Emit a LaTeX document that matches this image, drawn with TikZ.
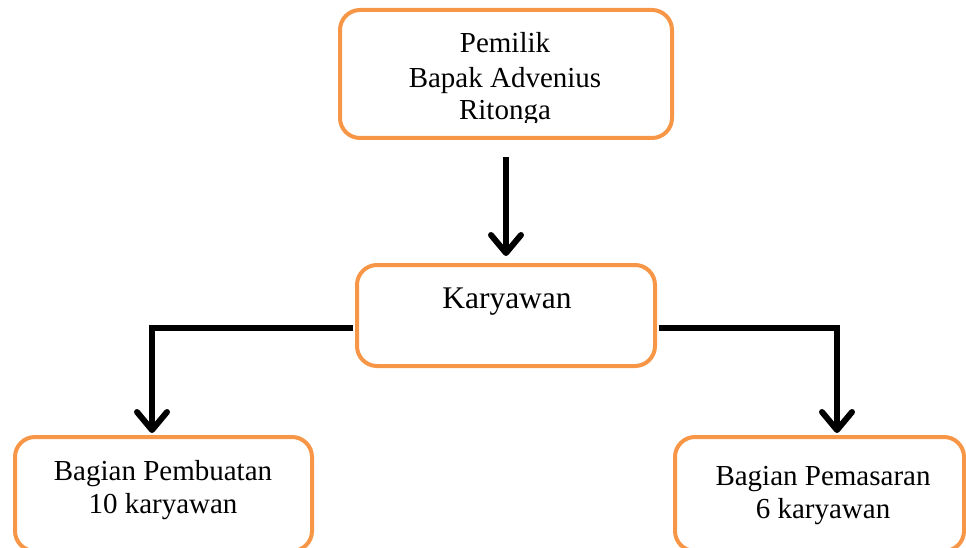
\documentclass[tikz,border=0pt]{standalone}
\usepackage{fontspec}
\setmainfont{Liberation Serif}
\usetikzlibrary{arrows.meta}
\definecolor{boxorange}{HTML}{F79646}
\begin{document}
\begin{tikzpicture}[x=1pt,y=-1pt,
  orgbox/.style={draw=boxorange, line width=4pt, rounded corners=20pt, inner sep=0pt},
  lbl/.style={anchor=base, inner sep=0pt, font=\fontsize{29}{34}\selectfont},
  conn/.style={line width=6pt, -{Straight Barb[length=18pt,width=30pt,line cap=round,line join=round]}}]
\useasboundingbox (0,0) rectangle (966,548);
% boxes
\node[orgbox, minimum width=332pt, minimum height=128pt] (own) at (506,74) {};
\node[orgbox, minimum width=298pt, minimum height=101pt] (kar) at (506,315.5) {};
\begin{scope}
\clip (0,0) rectangle (966,548);
\node[orgbox, minimum width=297pt, minimum height=114pt] (bl) at (163.5,494) {};
\node[orgbox, minimum width=289pt, minimum height=114pt] (br) at (819.5,494) {};
\end{scope}
% texts
\node[lbl] (t1) at (505,53) {Pemilik};
\node[lbl] (t2) at (505,88) {Bapak Advenius};
\begin{scope}
\clip (300,0) rectangle (700,123);
\node[lbl] (t3) at (505,120) {Ritonga};
\end{scope}
\node[lbl, font=\fontsize{31.5}{36}\selectfont] (t4) at (507,308) {Karyawan};
\node[lbl] (t5) at (163,480) {Bagian Pembuatan};
\node[lbl] (t6) at (163,513) {10 karyawan};
\node[lbl] (t7) at (823,485) {Bagian Pemasaran};
\node[lbl] (t8) at (823,518) {6 karyawan};
% connectors
\draw[conn] ([yshift=-17pt]own.south) -- ([yshift=7pt]kar.north);
\draw[conn] ([xshift=-2pt,yshift=-12.5pt]kar.west) -| ([xshift=-11.5pt,yshift=2pt]bl.north);
\draw[conn] ([xshift=2pt,yshift=-12pt]kar.east) -| ([xshift=17.5pt,yshift=2pt]br.north);
\end{tikzpicture}
\end{document}
